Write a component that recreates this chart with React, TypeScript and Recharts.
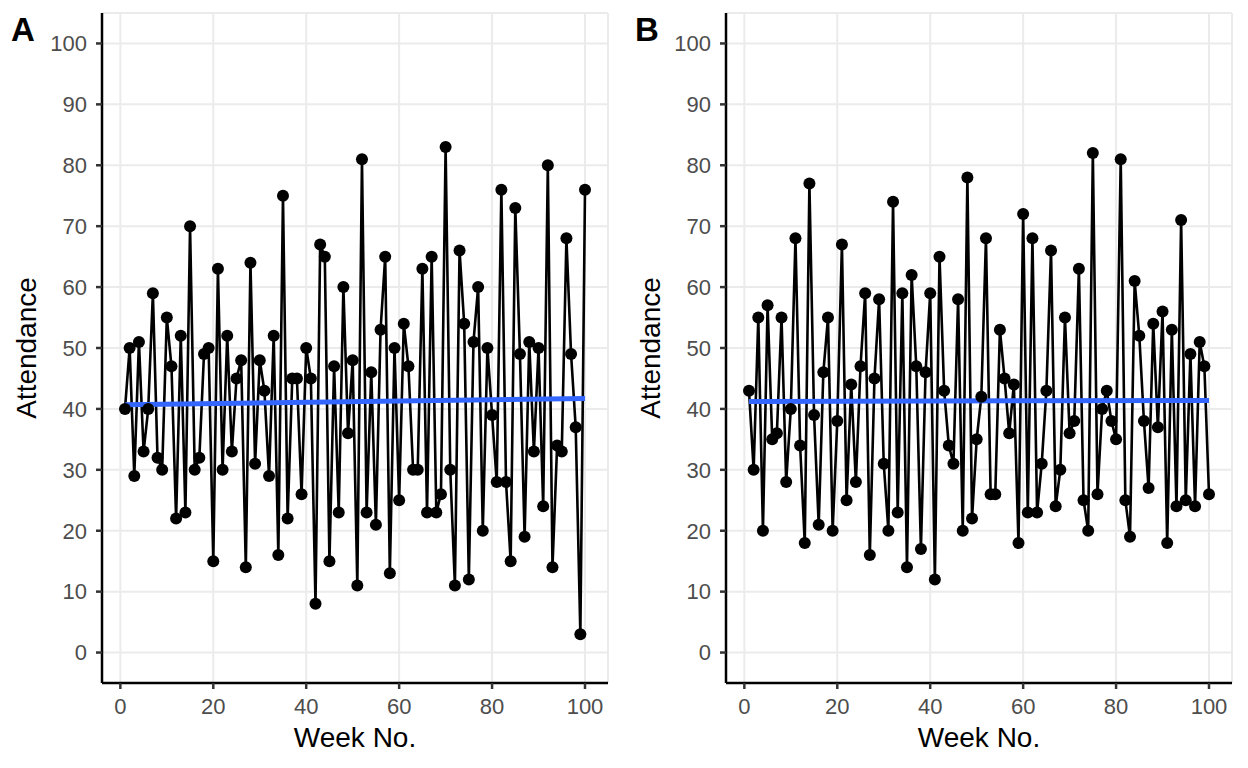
import React from "react";
import { LineChart, Line, XAxis, YAxis, CartesianGrid, Label } from "recharts";

// weekly attendance
const weeks = Array.from({ length: 100 }, (_, i) => i + 1);

const attendanceA = [
  40, 50, 29, 51, 33, 40, 59, 32, 30, 55,
  47, 22, 52, 23, 70, 30, 32, 49, 50, 15,
  63, 30, 52, 33, 45, 48, 14, 64, 31, 48,
  43, 29, 52, 16, 75, 22, 45, 45, 26, 50,
  45, 8, 67, 65, 15, 47, 23, 60, 36, 48,
  11, 81, 23, 46, 21, 53, 65, 13, 50, 25,
  54, 47, 30, 30, 63, 23, 65, 23, 26, 83,
  30, 11, 66, 54, 12, 51, 60, 20, 50, 39,
  28, 76, 28, 15, 73, 49, 19, 51, 33, 50,
  24, 80, 14, 34, 33, 68, 49, 37, 3, 76,
];

const attendanceB = [
  43, 30, 55, 20, 57, 35, 36, 55, 28, 40,
  68, 34, 18, 77, 39, 21, 46, 55, 20, 38,
  67, 25, 44, 28, 47, 59, 16, 45, 58, 31,
  20, 74, 23, 59, 14, 62, 47, 17, 46, 59,
  12, 65, 43, 34, 31, 58, 20, 78, 22, 35,
  42, 68, 26, 26, 53, 45, 36, 44, 18, 72,
  23, 68, 23, 31, 43, 66, 24, 30, 55, 36,
  38, 63, 25, 20, 82, 26, 40, 43, 38, 35,
  81, 25, 19, 61, 52, 38, 27, 54, 37, 56,
  18, 53, 24, 71, 25, 49, 24, 51, 47, 26,
];

const xTicks = [0, 20, 40, 60, 80, 100];
const yTicks = [0, 10, 20, 30, 40, 50, 60, 70, 80, 90, 100];

const FONT = "'Liberation Sans', Arial, Helvetica, sans-serif";
const W = 624;
const H = 768;
const PLOT_LEFT = 102;
const PLOT_TOP = 13;
const PLOT_BOTTOM = 683;
const PLOT_RIGHT = 608;

// straight lm fit, like geom_smooth(method = "lm")
function buildRows(values: number[]) {
  const n = values.length;
  const mx = weeks.reduce((a, b) => a + b, 0) / n;
  const my = values.reduce((a, b) => a + b, 0) / n;
  let sxy = 0;
  let sxx = 0;
  weeks.forEach((x, i) => {
    sxy += (x - mx) * (values[i] - my);
    sxx += (x - mx) * (x - mx);
  });
  const slope = sxy / sxx;
  const icept = my - slope * mx;
  return weeks.map((w, i) => ({
    week: w,
    attendance: values[i],
    fit: i === 0 || i === n - 1 ? icept + slope * w : undefined,
  }));
}

function Panel({ tag, values }: { tag: string; values: number[] }) {
  const rows = buildRows(values);
  const tickStyle = { fill: "#4D4D4D", fontSize: 22, fontFamily: FONT };
  const axisLine = { stroke: "#000", strokeWidth: 2.5 };
  const tickLine = { stroke: "#333", strokeWidth: 2.5 };

  return (
    <div style={{ position: "relative", width: W, height: H }}>
      <LineChart
        width={W}
        height={H}
        data={rows}
        margin={{ top: PLOT_TOP, right: W - PLOT_RIGHT, bottom: 0, left: 0 }}
      >
        <CartesianGrid stroke="#EBEBEB" strokeWidth={2} />
        <XAxis
          dataKey="week"
          type="number"
          domain={[-3.95, 104.95]}
          allowDataOverflow
          ticks={xTicks}
          interval={0}
          height={H - PLOT_BOTTOM}
          tickSize={6}
          tickMargin={9}
          axisLine={axisLine}
          tickLine={tickLine}
          tick={tickStyle}
        >
          <Label
            content={() => (
              <text
                x={(PLOT_LEFT + PLOT_RIGHT) / 2}
                y={747}
                textAnchor="middle"
                fontSize={28}
                fontFamily={FONT}
                fill="#000"
              >
                Week No.
              </text>
            )}
          />
        </XAxis>
        <YAxis
          type="number"
          domain={[-5, 105]}
          allowDataOverflow
          ticks={yTicks}
          interval={0}
          width={PLOT_LEFT}
          tickSize={6}
          tickMargin={9}
          axisLine={axisLine}
          tickLine={tickLine}
          tick={tickStyle}
        >
          <Label
            content={() => (
              <text
                x={36}
                y={(PLOT_TOP + PLOT_BOTTOM) / 2}
                transform={`rotate(-90, 36, ${(PLOT_TOP + PLOT_BOTTOM) / 2})`}
                textAnchor="middle"
                fontSize={28}
                fontFamily={FONT}
                fill="#000"
              >
                Attendance
              </text>
            )}
          />
        </YAxis>
        <Line
          dataKey="attendance"
          type="linear"
          stroke="#000"
          strokeWidth={2.6}
          dot={{ r: 6, fill: "#000", stroke: "#000", strokeWidth: 0 }}
          activeDot={false}
          isAnimationActive={false}
        />
        <Line
          dataKey="fit"
          type="linear"
          connectNulls
          stroke="#3366FF"
          strokeWidth={5}
          dot={false}
          activeDot={false}
          isAnimationActive={false}
        />
      </LineChart>
      <svg
        width={W}
        height={H}
        style={{ position: "absolute", left: 0, top: 0, pointerEvents: "none" }}
      >
        <text x={11} y={41} fontSize={33} fontWeight="bold" fontFamily={FONT} fill="#000">
          {tag}
        </text>
      </svg>
    </div>
  );
}

export default function App() {
  return (
    <div
      style={{
        position: "absolute",
        left: 0,
        top: 0,
        width: 1248,
        height: 768,
        display: "flex",
        background: "#fff",
      }}
    >
      <Panel tag="A" values={attendanceA} />
      <Panel tag="B" values={attendanceB} />
    </div>
  );
}
